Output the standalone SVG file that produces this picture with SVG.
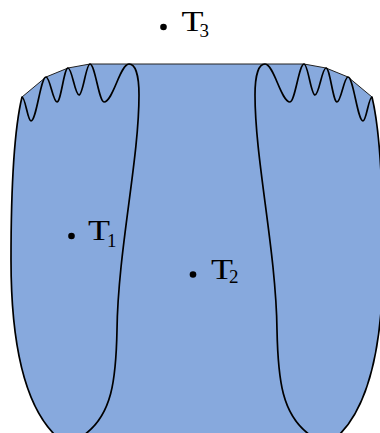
<svg xmlns="http://www.w3.org/2000/svg" width="380" height="433" viewBox="0 0 380 433">
<style>
.fill{fill:#87A9DD;stroke:none}
.poly{fill:none;stroke:#222;stroke-width:1;stroke-linejoin:round}
.lobe{fill:none;stroke:#000;stroke-width:1.7;stroke-linejoin:round}
.t{font-family:"Liberation Serif","Times New Roman",serif;fill:#000}
.big{font-size:30px}
.sub{font-size:19px}
</style>
<rect width="380" height="433" fill="#fff"/>
<g id="region">
<path class="fill" d="M55,440 L55,435 C20,400 11,330 11,260 C11,190 14,130 22,97 L46,77 L68,68 L90,64 L304,64 L326,68 L348,77 L372,97 C380,130 383,190 383,260 C383,330 374,400 339,435 L339,440 Z"/>
<path class="poly" d="M22,97 L46,77 L68,68 L90,64 L304,64 L326,68 L348,77 L372,97"/>
</g>
<g id="lobe-left">
<path class="lobe" d="M69,440 C62,440 58,438 55,435 C20,400 11,330 11,260 C11,190 14,130 22,97 C25.3,97 27.7,121 31,121 C36.4,121 40.6,77 46,77 C50,77 53,102 57,102 C61,102 64,68 68,68 C72,68 75,95 79,95 C83,95 86,64 90,64 C95,64 99,102 104,102 C113,102 120,64 129,64 C135,64 139,74 139,95 C139,160 118,250 117,330 C116,380 112,415 84,435 C80,438 75,440 69,440 Z"/>
</g>
<g id="lobe-right">
<path class="lobe" transform="matrix(-1 0 0 1 394 0)" d="M69,440 C62,440 58,438 55,435 C20,400 11,330 11,260 C11,190 14,130 22,97 C25.3,97 27.7,121 31,121 C36.4,121 40.6,77 46,77 C50,77 53,102 57,102 C61,102 64,68 68,68 C72,68 75,95 79,95 C83,95 86,64 90,64 C95,64 99,102 104,102 C113,102 120,64 129,64 C135,64 139,74 139,95 C139,160 118,250 117,330 C116,380 112,415 84,435 C80,438 75,440 69,440 Z"/>
</g>
<g id="T3">
<circle cx="163.5" cy="27" r="3.3"/>
<text class="t big" transform="translate(181.5,31) scale(1.2,1)">T</text>
<text class="t sub" x="199.5" y="37">3</text>
</g>
<g id="T1">
<circle cx="71.5" cy="236" r="3.3"/>
<text class="t big" transform="translate(88,240) scale(1.2,1)">T</text>
<text class="t sub" x="107" y="247">1</text>
</g>
<g id="T2">
<circle cx="193" cy="274.5" r="3.3"/>
<text class="t big" transform="translate(211,279) scale(1.2,1)">T</text>
<text class="t sub" x="229" y="283">2</text>
</g>
</svg>
